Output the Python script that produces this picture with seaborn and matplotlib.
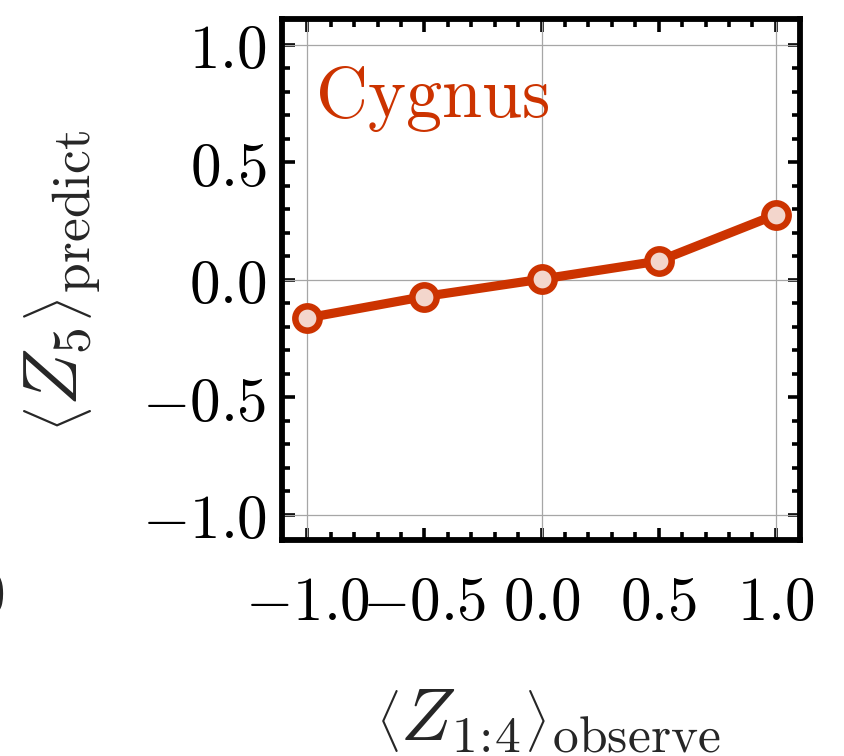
import matplotlib
matplotlib.use("Agg")
import matplotlib.pyplot as plt
import seaborn as sns
import numpy as np
from matplotlib.ticker import FixedLocator, FuncFormatter

# ---- data ----
x_observe = [-1.0, -0.5, 0.0, 0.5, 1.0]
z5_predict = [-0.162, -0.071, 0.003, 0.080, 0.277]
series_name = "Cygnus"
major_ticks = [-1.0, -0.5, 0.0, 0.5, 1.0]
grid_positions = [-1.0, 0.0, 1.0]
xlabel_text = r"$\left\langle Z_{1\!:\!4}\right\rangle_{\mathrm{observe}}$"
ylabel_text = r"$\left\langle Z_5\right\rangle_{\mathrm{predict}}$"

line_color = "#CC3300"
face_color = "#F3D6CC"

sns.set_style("ticks")
plt.rcParams["mathtext.fontset"] = "cm"
plt.rcParams["font.family"] = ["DejaVu Serif", "DejaVu Sans"]

fig = plt.figure(figsize=(8.45, 7.56), dpi=100)
ax = fig.add_axes([0.3337, 0.2857, 0.6130, 0.6898])

# grid lines
for g in grid_positions:
    ax.axvline(g, color="#A6A6A6", lw=0.9, zorder=1)
    ax.axhline(g, color="#A6A6A6", lw=0.9, zorder=1)

sns.lineplot(x=x_observe, y=z5_predict, ax=ax, color=line_color, linewidth=6.6,
             marker="o", markersize=17.5, markerfacecolor=face_color,
             markeredgecolor=line_color, markeredgewidth=4.7, zorder=3,
             clip_on=False)

ax.set_xlim(-1.108, 1.103)
ax.set_ylim(-1.107, 1.112)

minor = np.round(np.arange(-1.0, 1.001, 0.1), 1)
fmt = FuncFormatter(lambda v, p: f"${v:.1f}$")
for axis in (ax.xaxis, ax.yaxis):
    axis.set_major_locator(FixedLocator(major_ticks))
    axis.set_minor_locator(FixedLocator(minor))
    axis.set_major_formatter(fmt)

ax.tick_params(which="both", direction="in", top=True, right=True,
               width=2.6, color="black", labelsize=44, labelcolor="black")
ax.tick_params(which="major", length=9)
ax.tick_params(which="minor", length=6)
ax.tick_params(axis="x", which="major", pad=24)
ax.tick_params(axis="y", which="major", pad=11)

for s in ax.spines.values():
    s.set_linewidth(4.2)
    s.set_color("black")
    s.set_zorder(5)

ax.text(-0.968, 0.694, r"$\mathrm{" + series_name + "}$", color=line_color,
        fontsize=52, ha="left", va="baseline")

fig.text(0.649, 0.021, xlabel_text, fontsize=53, ha="center", va="baseline")
fig.text(0.0746, 0.628, ylabel_text, fontsize=55, ha="center", va="center",
         rotation=90)

# cut-off tick label from neighbouring panel
fig.text(0.006, 0.21, r"$1.0$", fontsize=44, ha="right", va="center")

fig.savefig("out.png", dpi=100)
